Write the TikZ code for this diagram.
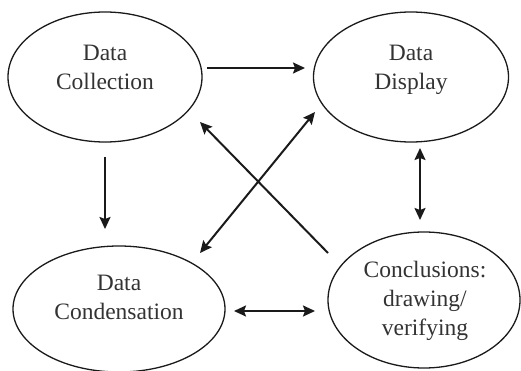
\documentclass[tikz,border=0pt]{standalone}
\usepackage{fontspec}
\setmainfont{Liberation Serif}
\usetikzlibrary{arrows.meta,calc,shapes.geometric}
\definecolor{txtc}{HTML}{333333}
\definecolor{linec}{HTML}{1A1A1A}
\tikzset{
  bubble/.style={ellipse, draw=linec, line width=1.3pt, inner sep=0pt},
  txt/.style={align=center, text=txtc, inner sep=0pt, font=\fontsize{23.5}{29}\selectfont},
  tip/.style={Stealth[length=12pt,width=11pt,inset=2pt]},
  arr/.style={draw=linec, line width=2pt, -{Stealth[length=12pt,width=11pt,inset=2pt]}},
  darr/.style={draw=linec, line width=2pt, {Stealth[length=12pt,width=11pt,inset=2pt]}-{Stealth[length=12pt,width=11pt,inset=2pt]}}
}
\begin{document}
\begin{tikzpicture}[x=1pt,y=-1pt]
\useasboundingbox (0,0) rectangle (521,371);
\node[bubble, minimum width=194pt, minimum height=130pt] (col) at (105,77) {};
\node[bubble, minimum width=195pt, minimum height=130pt] (dis) at (411,77) {};
\node[bubble, minimum width=212pt, minimum height=126pt] (con) at (119,309) {};
\node[bubble, minimum width=192pt, minimum height=136pt] (ccl) at (424,300) {};
\node[txt] (colT) at (105,67) {Data\\Collection};
\node[txt] (disT) at (411,69.5) {Data\\Display};
\node[txt] (conT) at (119,297) {Data\\Condensation};
\node[txt] (cclT) at (425,301) {Conclusions:\\drawing/\\verifying};
\draw[arr] ($(col.center)+(102,-9)$) -- ($(dis.center)+(-106,-9)$);
\draw[darr] ($(dis.center)+(9,71)$) -- ($(ccl.center)+(-4,-80)$);
\draw[arr] ($(col.center)+(0,80)$) -- ($(con.center)+(-14,-80)$);
\draw[darr] ($(con.center)+(115,2)$) -- ($(ccl.center)+(-109,11)$);
\draw[arr] ($(ccl.center)+(-96,-47)$) -- ($(col.center)+(95,45)$);
\draw[darr] ($(con.center)+(81,-56)$) -- ($(dis.center)+(-96,35)$);
\end{tikzpicture}
\end{document}
